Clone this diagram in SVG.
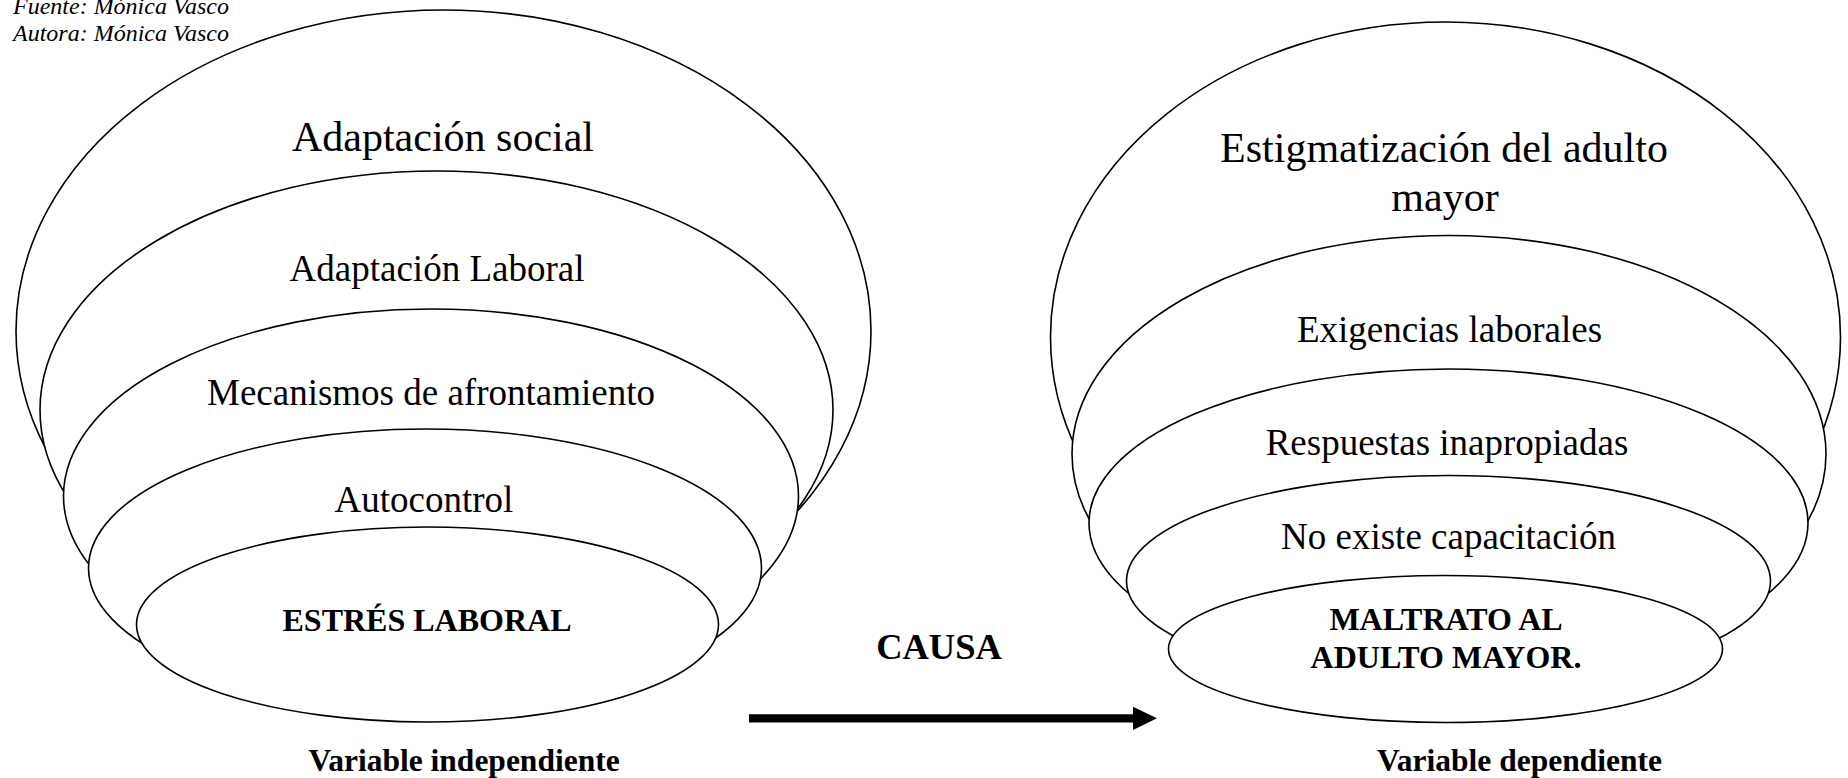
<svg xmlns="http://www.w3.org/2000/svg" width="1848" height="778" viewBox="0 0 1848 778">
<style>
.e{fill:#fff;stroke:#000;stroke-width:1.6}
.t{font-family:"Liberation Serif","Times New Roman",serif;fill:#000;text-anchor:middle}
.n{font-size:37px}
.b{font-weight:bold}
.s{font-family:"Liberation Serif","Times New Roman",serif;font-style:italic;font-size:24px;fill:#000}
</style>
<rect width="1848" height="778" fill="#fff"/>
<g id="source">
<text class="s" x="13" y="14">Fuente: Mónica Vasco</text>
<text class="s" x="13" y="41">Autora: Mónica Vasco</text>
</g>
<g id="left">
<g id="adaptacion-social"><ellipse class="e" cx="443.5" cy="331" rx="427.5" ry="321"/><text class="t" x="443" y="151" font-size="42">Adaptación social</text></g>
<g id="adaptacion-laboral"><ellipse class="e" cx="436.5" cy="410" rx="396.5" ry="239"/><text class="t n" x="437" y="281">Adaptación Laboral</text></g>
<g id="mecanismos"><ellipse class="e" cx="431" cy="496" rx="367.5" ry="187"/><text class="t n" x="431" y="405">Mecanismos de afrontamiento</text></g>
<g id="autocontrol"><ellipse class="e" cx="425" cy="568" rx="336.5" ry="139"/><text class="t n" x="424" y="512">Autocontrol</text></g>
<g id="estres-laboral"><ellipse class="e" cx="427.5" cy="624.5" rx="291" ry="97.5"/><text class="t b" x="427" y="631" font-size="32">ESTRÉS LABORAL</text></g>
<text id="var-indep" class="t b" x="464" y="771" font-size="31.5">Variable independiente</text>
</g>
<g id="right">
<g id="estigmatizacion"><ellipse class="e" cx="1445.5" cy="337" rx="395" ry="315"/><text class="t" x="1444" y="162" font-size="42">Estigmatización del adulto</text><text class="t" x="1445" y="211" font-size="42">mayor</text></g>
<g id="exigencias"><ellipse class="e" cx="1449" cy="454" rx="377" ry="218.5"/><text class="t n" x="1449.5" y="342">Exigencias laborales</text></g>
<g id="respuestas"><ellipse class="e" cx="1448.5" cy="523" rx="359.5" ry="154"/><text class="t n" x="1447" y="455">Respuestas inapropiadas</text></g>
<g id="capacitacion"><ellipse class="e" cx="1448.5" cy="581" rx="322" ry="105.5"/><text class="t n" x="1448.5" y="549">No existe capacitación</text></g>
<g id="maltrato"><ellipse class="e" cx="1445.5" cy="649" rx="277" ry="73.5"/><text class="t b" x="1446" y="630" font-size="32">MALTRATO AL</text><text class="t b" x="1446" y="667.5" font-size="32">ADULTO MAYOR.</text></g>
<text id="var-dep" class="t b" x="1519.5" y="771" font-size="31.5">Variable dependiente</text>
</g>
<g id="connectors">
<text class="t b" x="939" y="659" font-size="36.5">CAUSA</text>
<line x1="749" y1="718.3" x2="1134" y2="718.3" stroke="#000" stroke-width="8.3"/>
<polygon points="1133,706.7 1157,718.3 1133,730" fill="#000"/>
</g>
</svg>
